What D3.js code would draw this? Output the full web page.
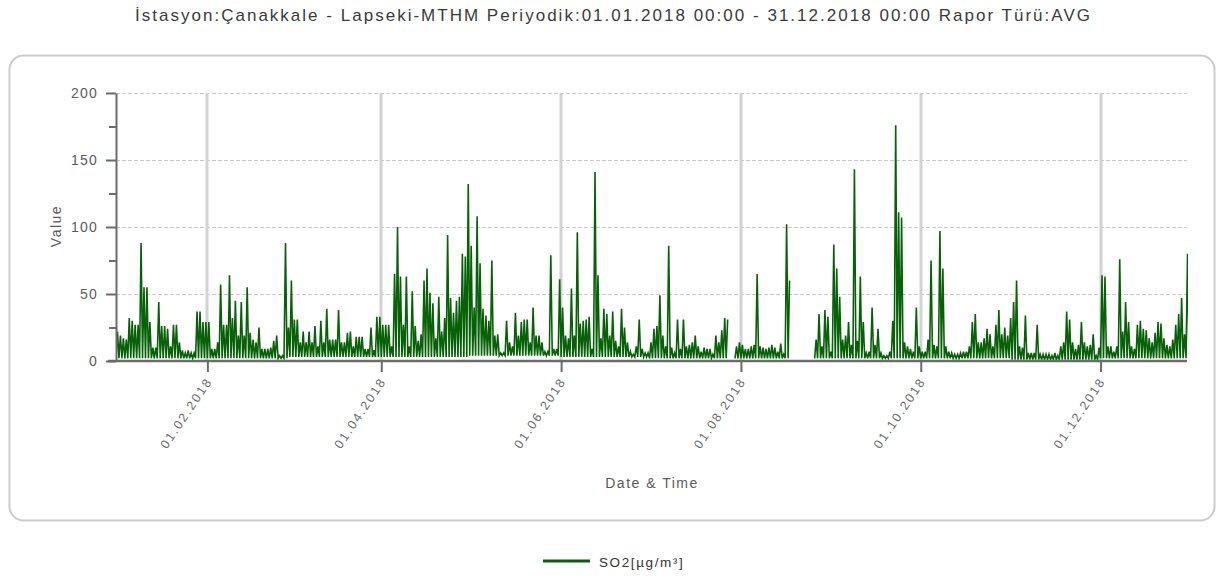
<!DOCTYPE html>
<html>
<head>
<meta charset="utf-8">
<script src="https://cdn.jsdelivr.net/npm/d3@7"></script>
<style>
  body { margin: 0; background: #fff; }
  svg { display: block; font-family: "Liberation Sans", Arial, sans-serif; }
</style>
</head>
<body>
<div id="chartContainer"></div>
<script>
// Texts
const titleText = "İstasyon:Çanakkale - Lapseki-MTHM Periyodik:01.01.2018 00:00 - 31.12.2018 00:00 Rapor Türü:AVG";
const seriesName = "SO2[µg/m³]";
const yLabel = "Value";
const xLabel = "Date & Time";

// Axis ticks
const yTicks = [0, 50, 100, 150, 200];
const yMinorTicks = [25, 75, 125, 175];
const xTickDates = ["2018-02-01", "2018-04-01", "2018-06-01", "2018-08-01", "2018-10-01", "2018-12-01"];

// Typical hourly minimum per month (read from the bottom of the band)
const monthlyLow = [2, 2, 3, 3, 4, 3, 2, 2, 2, 2, 1, 2];

// Daily peak SO2 values, one per day of 2018 (null = no data)
const so2DailyMax = [
  // Jan
  22, 19, 17, 16, 32, 30, 27, 27, 88, 55, 55, 29, 10, 10, 44, 26, 26, 24, 11, 27, 27, 14, 8, 6, 8, 6, 6, 37, 37, 29, 29,
  // Feb
  29, 9, 9, 14, 57, 27, 27, 64, 32, 45, 19, 44, 19, 55, 21, 16, 14, 25, 9, 9, 9, 10, 15, 19, 4, 4, 88, 25,
  // Mar
  60, 31, 31, 14, 22, 14, 22, 14, 26, 11, 30, 14, 39, 16, 16, 16, 38, 14, 14, 21, 22, 11, 18, 18, 18, 9, 9, 25, 8, 33, 33,
  // Apr
  27, 27, 27, 11, 65, 100, 63, 27, 63, 11, 52, 26, 15, 20, 60, 69, 51, 43, 17, 48, 22, 32, 94, 47, 36, 45, 48, 80, 78, 132,
  // May
  86, 40, 108, 73, 39, 34, 30, 75, 19, 20, 6, 6, 30, 14, 11, 36, 19, 29, 31, 31, 14, 40, 19, 19, 14, 7, 7, 79, 9, 9, 61,
  // Jun
  40, 19, 17, 54, 19, 96, 28, 30, 31, 33, 9, 141, 64, 17, 39, 35, 19, 37, 15, 11, 39, 25, 14, 7, 5, 11, 31, 9, 6, 6,
  // Jul
  14, 24, 26, 49, 19, 11, 86, 10, 6, 31, 9, 31, 11, 12, 14, 19, 11, 7, 10, 9, 9, 5, 19, 14, 23, 32, 31, null, null, 11, 14,
  // Aug
  12, 9, 9, 11, 12, 65, 11, 10, 9, 10, 12, 10, 7, 13, 5, 102, 60, null, null, null, null, null, null, null, null, 16, 35, 11, 38, 33, 7,
  // Sep
  87, 69, 48, 16, 19, 29, 12, 143, 15, 63, 29, 6, 7, 40, 12, 24, 6, 4, 4, 7, 30, 176, 111, 107, 14, 11, 9, 7, 40, 11,
  // Oct
  7, 7, 16, 75, 12, 11, 97, 69, 11, 7, 6, 5, 5, 6, 7, 7, 11, 29, 35, 14, 14, 17, 24, 20, 11, 27, 38, 20, 25, 19, 32,
  // Nov
  44, 60, 11, 10, 34, 6, 6, 6, 27, 5, 5, 5, 5, 4, 6, 4, 11, 14, 37, 31, 14, 9, 12, 29, 14, 11, 12, 20, 4, 10,
  // Dec
  64, 63, 11, 11, 7, 11, 76, 22, 44, 29, 11, 9, 27, 30, 24, 23, 17, 14, 21, 29, 28, 17, 12, 11, 16, 27, 35, 47, 20, 80, 58
];

function createChart() {
    const width = 1225;
    const height = 576;
    const plotLeft = 116, plotRight = 1189, plotTop = 93, plotBottom = 361;
    const lineColor = "#076207";

    const start = Date.UTC(2018, 0, 1);
    const dayMs = 864e5;

    // Scales
    const x = d3.scaleUtc()
        .domain([new Date(start), new Date(Date.UTC(2018, 11, 31))])
        .range([plotLeft, plotRight]);
    const y = d3.scaleLinear()
        .domain([0, 200])
        .range([plotBottom, plotTop]);

    // Build the points: each day goes down to the month's low, then up to the day's peak.
    const points = [];
    so2DailyMax.forEach((v, i) => {
        const t = new Date(start + i * dayMs);
        points.push({ t: t, v: v == null ? null : monthlyLow[t.getUTCMonth()] });
        points.push({ t: new Date(start + i * dayMs + dayMs / 2), v: v });
    });

    const svg = d3.create("svg")
        .attr("width", width)
        .attr("height", height)
        .attr("viewBox", [0, 0, width, height]);

    // Title
    svg.append("text")
        .attr("x", 135)
        .attr("y", 21)
        .attr("fill", "#3a3a3a")
        .attr("textLength", 955)
        .attr("lengthAdjust", "spacing")
        .style("font-size", "17px")
        .text(titleText);

    // Chart frame
    svg.append("rect")
        .attr("x", 9.5)
        .attr("y", 55.5)
        .attr("width", 1205)
        .attr("height", 465)
        .attr("rx", 14)
        .attr("fill", "#fff")
        .attr("stroke", "#cccccc")
        .attr("stroke-width", 2);

    // Horizontal dashed grid
    svg.append("g")
        .selectAll("line")
        .data(yTicks.filter(d => d > 0))
        .join("line")
        .attr("x1", plotLeft)
        .attr("x2", 1187)
        .attr("y1", d => Math.round(y(d)) + 0.5)
        .attr("y2", d => Math.round(y(d)) + 0.5)
        .attr("stroke", "#c8c8c8")
        .attr("stroke-dasharray", "4,2");

    // Vertical grid at month ticks
    svg.append("g")
        .selectAll("line")
        .data(xTickDates)
        .join("line")
        .attr("x1", d => Math.round(x(new Date(d + "T00:00:00Z"))))
        .attr("x2", d => Math.round(x(new Date(d + "T00:00:00Z"))))
        .attr("y1", plotTop)
        .attr("y2", plotBottom)
        .attr("stroke", "#d2d2d2")
        .attr("stroke-width", 3);

    // Series
    const clipId = "plotClip";
    svg.append("clipPath")
        .attr("id", clipId)
        .append("rect")
        .attr("x", plotLeft)
        .attr("y", plotTop - 2)
        .attr("width", plotRight - plotLeft - 1)
        .attr("height", plotBottom - plotTop + 2);

    const line = d3.line()
        .defined(d => d.v != null)
        .x(d => x(d.t))
        .y(d => y(d.v));

    svg.append("path")
        .attr("clip-path", `url(#${clipId})`)
        .attr("fill", "none")
        .attr("stroke", lineColor)
        .attr("stroke-width", 1.6)
        .attr("stroke-linejoin", "miter")
        .attr("d", line(points));

    // Y axis
    const yAxis = svg.append("g")
        .attr("transform", `translate(${plotLeft},0)`)
        .call(d3.axisLeft(y).tickValues(yTicks).tickSize(10).tickSizeOuter(0).tickPadding(8));
    svg.append("g")
        .attr("transform", `translate(${plotLeft},0)`)
        .call(d3.axisLeft(y).tickValues(yMinorTicks).tickSize(7).tickSizeOuter(0).tickFormat(""))
        .call(g => g.select(".domain").remove());
    svg.selectAll("g").filter(function () { return this.querySelector(".tick"); })
        .selectAll(".tick line, .domain")
        .attr("stroke", "#6b6b6b")
        .attr("stroke-width", 2);
    yAxis.selectAll("text")
        .attr("fill", "#5a5a5a")
        .style("font-size", "14px")
        .style("letter-spacing", "1.2px");

    // X axis
    const xAxis = svg.append("g")
        .attr("transform", `translate(0,${plotBottom})`)
        .call(d3.axisBottom(x)
            .tickValues(xTickDates.map(d => new Date(d + "T00:00:00Z")))
            .tickFormat(d3.utcFormat("%d.%m.%Y"))
            .tickSize(11)
            .tickSizeOuter(0));
    xAxis.select(".domain")
        .attr("d", `M${plotLeft - 8},0H1187`)
        .attr("stroke", "#6b6b6b")
        .attr("stroke-width", 2.5);
    xAxis.selectAll(".tick line")
        .attr("stroke", "#6b6b6b")
        .attr("stroke-width", 2);
    xAxis.selectAll(".tick text")
        .attr("fill", "#6a6a6a")
        .style("font-size", "12.5px")
        .style("letter-spacing", "2px")
        .attr("text-anchor", "end")
        .attr("dy", null)
        .attr("y", 0)
        .attr("transform", "translate(5,20) rotate(-56)");

    // Axis titles
    svg.append("text")
        .attr("transform", "translate(61,226) rotate(-90)")
        .attr("text-anchor", "middle")
        .attr("fill", "#5a5a5a")
        .style("font-size", "14px")
        .style("letter-spacing", "1.5px")
        .text(yLabel);
    svg.append("text")
        .attr("x", 652)
        .attr("y", 488)
        .attr("text-anchor", "middle")
        .attr("fill", "#5a5a5a")
        .style("font-size", "14px")
        .style("letter-spacing", "1.5px")
        .text(xLabel);

    // Legend
    const legend = svg.append("g").attr("transform", "translate(543,561)");
    legend.append("line")
        .attr("x1", 0)
        .attr("x2", 47)
        .attr("stroke", lineColor)
        .attr("stroke-width", 3);
    legend.append("text")
        .attr("x", 56)
        .attr("y", 5.5)
        .attr("fill", "#333")
        .style("font-size", "13.5px")
        .style("letter-spacing", "1.6px")
        .text(seriesName);

    return svg.node();
}

document.getElementById("chartContainer").appendChild(createChart());
</script>
</body>
</html>
